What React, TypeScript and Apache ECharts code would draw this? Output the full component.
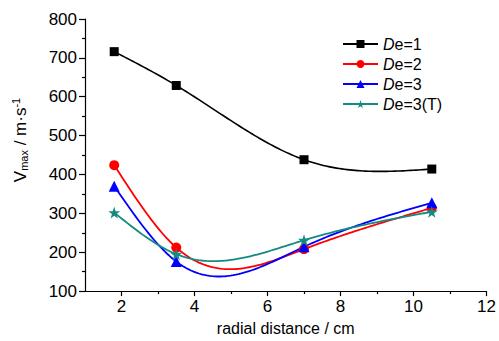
import React, { useEffect, useRef } from "react";
import * as echarts from "echarts";

const xPositions = [1.8, 3.5, 7, 10.5];
const seriesNames = ["De=1", "De=2", "De=3", "De=3(T)"];
const de1 = [716, 629, 438, 414];
const de2 = [424, 212, 208, 314];
const de3 = [370, 176, 214, 327];
const de3T = [302, 195, 231, 304];
const xMajorTicks = [2, 4, 6, 8, 10, 12];
const xMinorTicks = [3, 5, 7, 9, 11];

const colors = ["#000000", "#ff0000", "#0000ff", "#148a82"];
const STAR = "path://M50,0 L61,35 L98,35 L68,57 L79,91 L50,70 L21,91 L32,57 L2,35 L39,35 Z";
const symbols = ["rect", "circle", "triangle", STAR];
const symbolSizes = [9, 10, 11, 12];
const FONT = "'Liberation Sans', Arial, sans-serif";

function naturalSpline(xs: number[], ys: number[]) {
  const n = xs.length;
  const h: number[] = [];
  for (let i = 0; i < n - 1; i++) h.push(xs[i + 1] - xs[i]);
  const a: number[] = new Array(n).fill(0);
  const b: number[] = new Array(n).fill(1);
  const c: number[] = new Array(n).fill(0);
  const d: number[] = new Array(n).fill(0);
  for (let i = 1; i < n - 1; i++) {
    a[i] = h[i - 1];
    b[i] = 2 * (h[i - 1] + h[i]);
    c[i] = h[i];
    d[i] = 6 * ((ys[i + 1] - ys[i]) / h[i] - (ys[i] - ys[i - 1]) / h[i - 1]);
  }
  const cp = new Array(n).fill(0);
  const dp = new Array(n).fill(0);
  cp[0] = c[0] / b[0];
  dp[0] = d[0] / b[0];
  for (let i = 1; i < n; i++) {
    const m = b[i] - a[i] * cp[i - 1];
    cp[i] = c[i] / m;
    dp[i] = (d[i] - a[i] * dp[i - 1]) / m;
  }
  const M = new Array(n).fill(0);
  M[n - 1] = dp[n - 1];
  for (let i = n - 2; i >= 0; i--) M[i] = dp[i] - cp[i] * M[i + 1];
  return (x: number) => {
    let i = 0;
    while (i < n - 2 && x > xs[i + 1]) i++;
    const hi = h[i];
    const t1 = xs[i + 1] - x;
    const t2 = x - xs[i];
    return (
      (M[i] * t1 * t1 * t1) / (6 * hi) +
      (M[i + 1] * t2 * t2 * t2) / (6 * hi) +
      (ys[i] / hi - (M[i] * hi) / 6) * t1 +
      (ys[i + 1] / hi - (M[i + 1] * hi) / 6) * t2
    );
  };
}

export default function App() {
  const ref = useRef<HTMLDivElement>(null);
  useEffect(() => {
    if (!ref.current) return;
    const chart = echarts.init(ref.current, null, { renderer: "svg" });
    const allData = [de1, de2, de3, de3T];

    const curveSeries = allData.map((ys, si) => ({
      type: "custom",
      name: "curve" + si,
      xAxisIndex: 0,
      yAxisIndex: 0,
      silent: true,
      z: 2,
      data: xPositions.map((x, i) => [x, ys[i]]),
      renderItem: (params: any, api: any) => {
        if (params.dataIndex !== 0) return null;
        const f = naturalSpline(xPositions, ys);
        const pts: number[][] = [];
        const x0 = xPositions[0];
        const x1 = xPositions[xPositions.length - 1];
        const N = 120;
        for (let k = 0; k <= N; k++) {
          const x = x0 + ((x1 - x0) * k) / N;
          pts.push(api.coord([x, f(x)]));
        }
        return {
          type: "polyline",
          shape: { points: pts },
          style: { stroke: colors[si], lineWidth: si === 0 ? 1.6 : 1.8, fill: "none" },
        };
      },
    }));

    const markerSeries = allData.map((ys, si) => ({
      type: "line",
      name: seriesNames[si],
      xAxisIndex: 0,
      yAxisIndex: 0,
      data: xPositions.map((x, i) => [x, ys[i]]),
      symbol: symbols[si],
      symbolSize: symbolSizes[si],
      showSymbol: true,
      itemStyle: { color: colors[si] },
      lineStyle: { color: colors[si], width: 0, opacity: 0 },
      z: 3,
    }));

    chart.setOption({
      animation: false,
      backgroundColor: "#ffffff",
      grid: { left: 85, right: 6, top: 19, bottom: 48, containLabel: false },
      legend: {
        orient: "vertical",
        left: 337,
        top: 31,
        itemWidth: 35,
        itemHeight: 10,
        itemGap: 4,
        data: seriesNames.map((n, i) => ({
          name: n,
          lineStyle: { color: colors[i], width: 2, opacity: 1 },
        })),
        formatter: (name: string) => "{i|D}{t|" + name.slice(1) + "}",
        textStyle: {
          fontFamily: FONT,
          fontSize: 16,
          color: "#000",
          rich: {
            i: { fontFamily: FONT, fontSize: 16, fontStyle: "italic", color: "#000" },
            t: { fontFamily: FONT, fontSize: 16, color: "#000" },
          },
        },
      },
      xAxis: [
        {
          type: "value",
          min: 1,
          max: 12,
          position: "bottom",
          name: "radial distance / cm",
          nameLocation: "middle",
          nameGap: 25,
          nameTextStyle: { fontFamily: FONT, fontSize: 16, color: "#000" },
          axisLine: { show: true, onZero: false, lineStyle: { color: "#000", width: 1.2 } },
          axisTick: { show: true, length: 5, customValues: xMajorTicks, lineStyle: { color: "#000", width: 1.2 } },
          axisLabel: { customValues: xMajorTicks, fontFamily: FONT, fontSize: 17, color: "#000", margin: 7 },
          splitLine: { show: false },
        },
        {
          type: "value",
          min: 1,
          max: 12,
          position: "bottom",
          axisLine: { show: false },
          axisTick: { show: true, length: 3, customValues: xMinorTicks, lineStyle: { color: "#000", width: 1.2 } },
          axisLabel: { show: false },
          splitLine: { show: false },
        },
      ],
      yAxis: {
        type: "value",
        min: 100,
        max: 800,
        interval: 100,
        axisLine: { show: true, onZero: false, lineStyle: { color: "#000", width: 1.2 } },
        axisTick: { show: true, length: 6, lineStyle: { color: "#000", width: 1.2 } },
        minorTick: { show: true, splitNumber: 2, length: 3, lineStyle: { color: "#000", width: 1.2 } },
        axisLabel: { fontFamily: FONT, fontSize: 17, color: "#000", margin: 8 },
        splitLine: { show: false },
      },
      graphic: [
        {
          type: "text",
          x: 20,
          y: 140,
          rotation: Math.PI / 2,
          style: {
            text: "{v|V}{s|max}{n| / m·s}{p|-1}",
            textAlign: "center",
            textVerticalAlign: "middle",
            fill: "#000",
            rich: {
              v: { fontFamily: FONT, fontSize: 17, fill: "#000" },
              s: { fontFamily: FONT, fontSize: 11, fill: "#000", verticalAlign: "bottom", padding: [8, 0, 0, 0] },
              n: { fontFamily: FONT, fontSize: 17, fill: "#000" },
              p: { fontFamily: FONT, fontSize: 11, fill: "#000", verticalAlign: "top", padding: [0, 0, 8, 0] },
            },
          },
        },
      ],
      series: [...curveSeries, ...markerSeries],
    });
    return () => chart.dispose();
  }, []);
  return (
    <div
      ref={ref}
      style={{ position: "fixed", left: 0, top: 0, width: 499, height: 341, background: "#fff" }}
    />
  );
}
